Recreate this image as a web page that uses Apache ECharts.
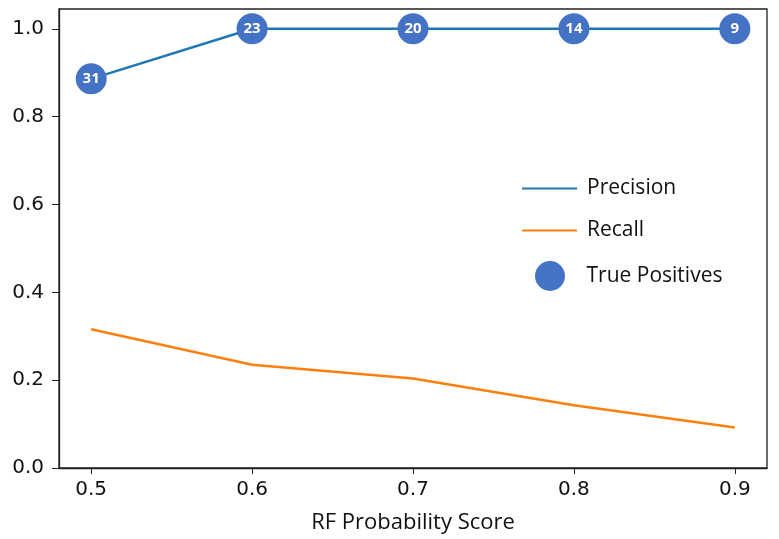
<!DOCTYPE html>
<html>
<head>
<meta charset="utf-8">
<script src="https://cdn.jsdelivr.net/npm/echarts@6/dist/echarts.min.js"></script>
<style>html,body{margin:0;padding:0;background:#fff;}#c{width:779px;height:539px;}</style>
</head>
<body>
<div id="c"></div>
<script>
const thresholds = [0.5, 0.6, 0.7, 0.8, 0.9];
const precision = [0.886, 1.0, 1.0, 1.0, 1.0];
const recall = [0.316, 0.235, 0.204, 0.143, 0.092];
const truePositives = [31, 23, 20, 14, 9];
const xTicks = [0.5, 0.6, 0.7, 0.8, 0.9];
const yTicks = [0.0, 0.2, 0.4, 0.6, 0.8, 1.0];

const lineIcon = 'path://M0,0L55,0L55,2.2L0,2.2Z';
const chart = echarts.init(document.getElementById('c'));
const tickFont = {fontFamily: 'DejaVu Sans', fontSize: 20, color: '#111'};
const legendText = {fontFamily: 'Open Sans', fontSize: 21, color: '#111', padding: [0, 0, 0, 5]};
chart.setOption({
  animation: false,
  grid: {left: 59, right: 12, top: 9, bottom: 70, show: true, borderColor: '#222', borderWidth: 1.3, backgroundColor: 'transparent'},
  legend: [
    {orient: 'vertical', left: 517, top: 173, itemWidth: 55, itemHeight: 30, textStyle: legendText,
      data: [{name: 'Precision', icon: lineIcon}]},
    {orient: 'vertical', left: 517, top: 215, itemWidth: 55, itemHeight: 30, textStyle: legendText,
      data: [{name: 'Recall', icon: lineIcon}]},
    {orient: 'vertical', left: 530, top: 256, itemWidth: 55, itemHeight: 30,
      textStyle: Object.assign({}, legendText, {padding: [0, 0, 0, 4]}),
      data: [{name: 'True Positives', icon: 'circle'}]}
  ],
  xAxis: {
    type: 'value', min: 0.48, max: 0.92,
    name: 'RF Probability Score', nameLocation: 'middle', nameGap: 44,
    nameTextStyle: {fontFamily: 'Open Sans', fontSize: 22, color: '#111'},
    axisLine: {show: true, lineStyle: {color: '#222', width: 1.3}},
    axisTick: {show: true, length: 6, lineStyle: {color: '#222'}, customValues: xTicks},
    axisLabel: Object.assign({margin: 12, customValues: xTicks, formatter: v => v.toFixed(1)}, tickFont),
    splitLine: {show: false}
  },
  yAxis: {
    type: 'value', min: 0, max: 1.045,
    axisLine: {show: true, lineStyle: {color: '#222', width: 1.3}},
    axisTick: {show: true, length: 7, lineStyle: {color: '#222'}, customValues: yTicks},
    axisLabel: Object.assign({margin: 15, customValues: yTicks, formatter: v => v.toFixed(1)}, tickFont),
    splitLine: {show: false}
  },
  series: [
    {
      name: 'Precision', type: 'line', symbol: 'none', z: 2,
      lineStyle: {color: '#1f77b4', width: 2.5}, itemStyle: {color: '#1f77b4'},
      data: thresholds.map((x, i) => [x, precision[i]])
    },
    {
      name: 'Recall', type: 'line', symbol: 'none', z: 2,
      lineStyle: {color: '#ff7f0e', width: 2.5}, itemStyle: {color: '#ff7f0e'},
      data: thresholds.map((x, i) => [x, recall[i]])
    },
    {
      name: 'True Positives', type: 'scatter', symbol: 'circle', symbolSize: 31, z: 5,
      itemStyle: {color: '#4472c4', opacity: 1},
      label: {show: true, position: 'inside', color: '#fff', fontWeight: 'bold', fontFamily: 'Open Sans', fontSize: 15,
        formatter: p => String(p.data[2])},
      data: thresholds.map((x, i) => [x, precision[i], truePositives[i]])
    }
  ]
});
</script>
</body>
</html>
